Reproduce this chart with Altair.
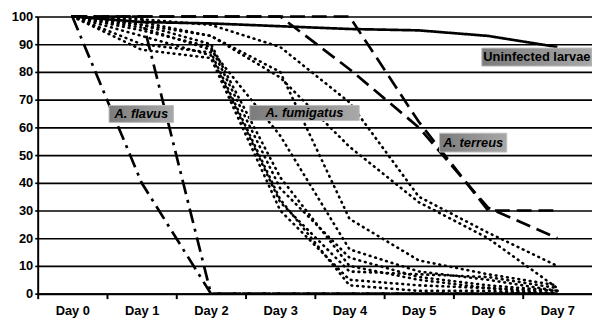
import altair as alt
import pandas as pd

days = [0, 1, 2, 3, 4, 5, 6, 7]

uninfected = [100, 98, 97.5, 96.5, 95.5, 95, 93, 89]
flavus_1 = [100, 40, 0, 0, 0, 0, 0, 0]
flavus_2 = [100, 100, 0, 0, 0, 0, 0, 0]
terreus_1 = [100, 100, 100, 100, 100, 62, 30, 30]
terreus_2 = [100, 100, 100, 100, 81, 60, 31, 20]
fumigatus_1 = [100, 99, 97, 89, 69, 35, 22, 10]
fumigatus_2 = [100, 98, 93, 78, 53, 33, 20, 2]
fumigatus_3 = [100, 97, 93, 80, 27, 12, 7, 3]
fumigatus_4 = [100, 96, 88, 57, 16, 8, 5, 1]
fumigatus_5 = [100, 90, 87, 34, 3, 1, 1, 0]
fumigatus_6 = [100, 93, 86, 33, 8, 7, 6, 2]
fumigatus_7 = [100, 95, 89, 38, 13, 6, 3, 1]
fumigatus_8 = [100, 97, 90, 42, 10, 5, 2, 0]
fumigatus_9 = [100, 88, 85, 30, 5, 3, 2, 1]

series = [
    ("fum1", "dot", fumigatus_1), ("fum2", "dot", fumigatus_2),
    ("fum3", "dot", fumigatus_3), ("fum4", "dot", fumigatus_4),
    ("fum5", "dot", fumigatus_5), ("fum6", "dot", fumigatus_6),
    ("fum7", "dot", fumigatus_7), ("fum8", "dot", fumigatus_8),
    ("fum9", "dot", fumigatus_9),
    ("fla1", "dashdot", flavus_1), ("fla2", "dashdot", flavus_2),
    ("ter1", "dash", terreus_1), ("ter2", "dash", terreus_2),
    ("uninf", "solid", uninfected),
]

label_text = ["A. flavus", "A. fumigatus", "A. terreus", "Uninfected larvae"]
label_italic = [True, True, True, False]
label_x0 = [0.53, 2.56, 5.30, 5.91]
label_x1 = [1.46, 4.14, 6.27, 7.50]
label_y0 = [61.8, 62.5, 51.1, 82.1]
label_y1 = [67.9, 67.9, 57.9, 88.6]

rows = []
for name, style, vals in series:
    for d, v in zip(days, vals):
        rows.append({"series": name, "style": style, "day": d, "value": v})
df = pd.DataFrame(rows)

lab = pd.DataFrame({
    "text": label_text, "italic": label_italic,
    "x0": label_x0, "x1": label_x1, "y0": label_y0, "y1": label_y1,
})
lab["xm"] = (lab["x0"] + lab["x1"]) / 2
lab["ym"] = (lab["y0"] + lab["y1"]) / 2

xscale = alt.Scale(domain=[-0.5, 7.5], nice=False, zero=False)
yscale = alt.Scale(domain=[0, 100], nice=False)

xaxis = alt.Axis(
    values=[-0.5, 0.5, 1.5, 2.5, 3.5, 4.5, 5.5, 6.5],
    labelExpr="'Day ' + (datum.value + 0.5)",
    labelOffset=35, labelFlush=False, labelOverlap=False,
    grid=False, title=None, tickSize=5, tickWidth=2, tickColor="black",
    domainColor="black", domainWidth=2, labelFont="Liberation Sans",
    labelFontWeight="bold", labelFontSize=13, labelColor="black", labelPadding=6,
)
yaxis = alt.Axis(
    values=[0, 10, 20, 30, 40, 50, 60, 70, 80, 90, 100],
    labelOverlap=False, labelFlush=False,
    grid=True, gridColor="black", gridWidth=1.7, gridOpacity=1,
    title=None, tickSize=3, tickWidth=1.7, tickColor="black",
    domainColor="black", domainWidth=2, labelFont="Liberation Sans",
    labelFontWeight="bold", labelFontSize=13, labelColor="black", labelPadding=2,
)

dash_scale = alt.Scale(
    domain=["dashdot", "dash", "solid"],
    range=[[15, 6, 3, 6], [15, 7], [1, 0]],
)
width_scale = alt.Scale(domain=["dashdot", "dash", "solid"], range=[2.7, 2.7, 2.0])

dotted = alt.Chart(df).transform_filter("datum.style == 'dot'").mark_line(
    color="black", strokeWidth=2.6, strokeCap="round", strokeDash=[0.8, 5]
).encode(
    x=alt.X("day:Q", scale=xscale, axis=xaxis),
    y=alt.Y("value:Q", scale=yscale, axis=yaxis),
    detail="series:N",
)

others = alt.Chart(df).transform_filter("datum.style != 'dot'").mark_line(
    color="black"
).encode(
    x=alt.X("day:Q", scale=xscale, axis=xaxis),
    y=alt.Y("value:Q", scale=yscale, axis=yaxis),
    detail="series:N",
    strokeDash=alt.StrokeDash("style:N", scale=dash_scale, legend=None),
    strokeWidth=alt.StrokeWidth("style:N", scale=width_scale, legend=None),
)

grad = alt.LinearGradient(
    gradient="linear",
    stops=[alt.GradientStop(color="#7c7c7c", offset=0),
           alt.GradientStop(color="#a8a8a8", offset=1)],
    x1=0, x2=1, y1=0, y2=0,
)

boxes = alt.Chart(lab).mark_rect(fill=grad, stroke="#bdbdbd", strokeWidth=1).encode(
    x=alt.X("x0:Q", scale=xscale, axis=xaxis), x2="x1:Q",
    y=alt.Y("y0:Q", scale=yscale, axis=yaxis), y2="y1:Q",
)

txt_it = alt.Chart(lab).transform_filter("datum.italic").mark_text(
    font="Liberation Sans", fontSize=13, fontWeight="bold", fontStyle="italic",
    color="black", align="center", baseline="middle",
).encode(x=alt.X("xm:Q", scale=xscale, axis=xaxis),
         y=alt.Y("ym:Q", scale=yscale, axis=yaxis), text="text:N")

txt_up = alt.Chart(lab).transform_filter("!datum.italic").mark_text(
    font="Liberation Sans", fontSize=13, fontWeight="bold",
    color="black", align="center", baseline="middle",
).encode(x=alt.X("xm:Q", scale=xscale, axis=xaxis),
         y=alt.Y("ym:Q", scale=yscale, axis=yaxis), text="text:N")

chart = alt.layer(dotted, others, boxes, txt_it, txt_up).properties(
    width=560, height=280,
    autosize=alt.AutoSizeParams(type="none"),
    padding={"left": 30, "top": 7, "right": 0, "bottom": 24},
    background="white",
).configure_view(stroke=None)

chart.save("out.html", embed_options={"renderer": "svg", "actions": False})
